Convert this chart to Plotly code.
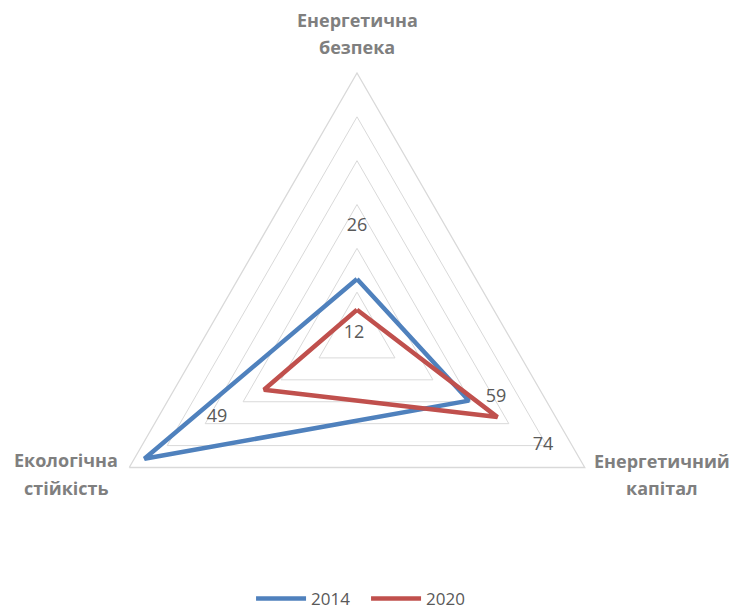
import plotly.graph_objects as go

# ---- data ----
categories = ["Енергетична безпека", "Енергетичний капітал", "Екологічна стійкість"]
series_names = ["2014", "2020"]
values_2014 = [26, 59, 112]
values_2020 = [12, 74, 49]

# ---- style ----
COLORS = {"2014": "#4F81BD", "2020": "#C0504D"}
GRID = "#d9d9d9"
FONT = "Open Sans"
R_MAX = 120
# data-label placement (radius in value units, angle in degrees clockwise from top)
LABEL_POS = {
    "2014": [(49.8, 0), (69.3, 113.7), (121.4, 233.6)],
    "2020": [(1.9, 315), (98.4, 120.4), (73.8, 239.9)],
}
# category label placement in pixels: (x centre, [y of each line])
CAT_POS = [(357, [20, 47]), (662, [461, 488]), (66, [460, 488])]

W, H = 738, 610
CX, CY, RAD = 357, 336, 263
dom_x = [(CX - RAD) / W, (CX + RAD) / W]
dom_y = [(H - CY - RAD) / H, (H - CY + RAD) / H]

fig = go.Figure()
for name, vals in zip(series_names, [values_2014, values_2020]):
    fig.add_trace(go.Scatterpolar(
        r=vals + [vals[0]], theta=categories + [categories[0]],
        mode="lines", name=name,
        line=dict(color=COLORS[name], width=4.5),
        subplot="polar",
    ))

for name, vals in zip(series_names, [values_2014, values_2020]):
    pos = LABEL_POS[name]
    fig.add_trace(go.Scatterpolar(
        r=[p[0] for p in pos], theta=[p[1] for p in pos],
        text=[str(v) for v in vals], mode="text",
        textposition="middle center",
        textfont=dict(family=FONT, size=18, color="#595959"),
        showlegend=False, hoverinfo="skip", cliponaxis=False,
        subplot="polar2",
    ))

annotations = []
for cat, (px, ys) in zip(categories, CAT_POS):
    for word, py in zip(cat.split(" "), ys):
        annotations.append(dict(
            text=f"<b>{word}</b>", x=px / W, y=1 - py / H, xref="paper", yref="paper",
            xanchor="center", yanchor="middle", showarrow=False,
            font=dict(family=FONT, size=18, color="#7f7f7f"),
        ))

fig.update_layout(
    width=W, height=H,
    margin=dict(l=0, r=0, t=0, b=0, autoexpand=False),
    paper_bgcolor="white",
    font=dict(family=FONT, color="#595959"),
    annotations=annotations,
    polar=dict(
        domain=dict(x=dom_x, y=dom_y),
        gridshape="linear",
        bgcolor="white",
        radialaxis=dict(range=[0, R_MAX], dtick=20, tick0=0, showticklabels=False,
                        ticks="", showline=False, gridcolor=GRID, gridwidth=1.3),
        angularaxis=dict(direction="clockwise", rotation=90, showgrid=False,
                         showline=True, linecolor=GRID, linewidth=1.3, ticks="",
                         showticklabels=False),
    ),
    polar2=dict(
        domain=dict(x=dom_x, y=dom_y),
        bgcolor="rgba(0,0,0,0)",
        radialaxis=dict(range=[0, R_MAX], visible=False),
        angularaxis=dict(direction="clockwise", rotation=90, thetaunit="degrees",
                         visible=False),
    ),
    legend=dict(orientation="h", x=0.496, xanchor="center", y=0.018, yanchor="middle",
                itemwidth=50, entrywidth=50, entrywidthmode="pixels",
                font=dict(family=FONT, size=17, color="#595959")),
)

fig.write_html("out.html")
